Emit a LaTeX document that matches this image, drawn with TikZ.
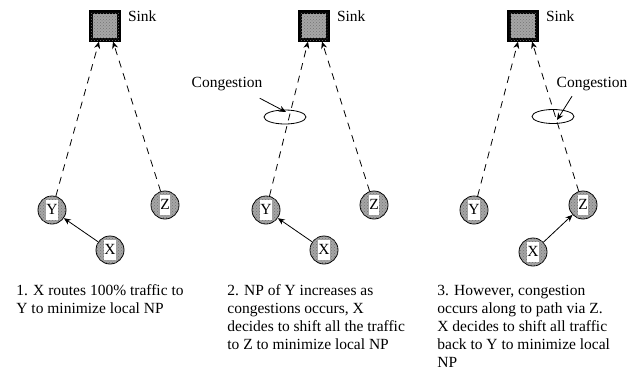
\documentclass[tikz,border=0pt]{standalone}
\usepackage{fontspec}
\setmainfont{Liberation Serif}
\usepackage{tikz}
\usetikzlibrary{arrows.meta}
\usetikzlibrary{shapes.geometric}
\usetikzlibrary{patterns}
\usetikzlibrary{calc}

\newcommand{\capfont}{\fontsize{15.5}{18}\selectfont}
\newcommand{\tagbox}[1]{{\setlength{\fboxsep}{0.5pt}\colorbox{white}{\rule[-5pt]{0pt}{19pt}#1}}}

\begin{document}
\begin{tikzpicture}[x=1pt,y=-1pt,>={Stealth[length=7pt,width=6pt]},line width=0.8pt,
        sensor/.style={circle,draw,fill=gray!70,minimum size=28pt,inner sep=0pt,font=\capfont,
            postaction={pattern=crosshatch dots,pattern color=black!55}},
        sink node/.style={rectangle,draw,line width=3.2pt,fill=gray!70,minimum size=28pt,inner sep=0pt,
            postaction={pattern=crosshatch dots,pattern color=black!55}},
        hot spot/.style={ellipse,draw,minimum width=42pt,minimum height=14pt,inner sep=0pt},
        route/.style={->,dash pattern=on 7pt off 6pt},
        link/.style={->},
        txt/.style={font=\capfont,inner sep=0pt}]

        \useasboundingbox (0,0) rectangle (635,375);

        % 1: all traffic to Y
        \node[sink node] (sink1) at (105,26) {};
        \node[txt,anchor=west] (snk1) at ([xshift=7pt,yshift=-6pt]sink1.north east) {Sink};
        \node[sensor] (y1) at (52,210) {\tagbox{Y}};
        \node[sensor] (z1) at (165,205) {\tagbox{Z}};
        \node[sensor] (x1) at (110,250) {\tagbox{X}};
        \draw[route] (y1) -- ([xshift=-6pt]sink1.south);
        \draw[route] (z1) -- ([xshift=8pt]sink1.south);
        \draw[link] (x1) -- (y1);
        \node[txt,anchor=north west,align=left] (cap1) at (16,284.5)
            {1. X routes 100\% traffic to\\Y to minimize local NP};

        % 2: congestion on the Y path
        \node[sink node] (sink2) at (314,26) {};
        \node[txt,anchor=west] (snk2) at ([xshift=7pt,yshift=-6pt]sink2.north east) {Sink};
        \node[sensor] (y2) at (266,210) {\tagbox{Y}};
        \node[sensor] (z2) at (374,205) {\tagbox{Z}};
        \node[sensor] (x2) at (324,250) {\tagbox{X}};
        \draw[route] (y2) -- ([xshift=-6pt]sink2.south);
        \draw[route] (z2) -- ([xshift=8pt]sink2.south);
        \draw[link] (x2) -- (y2);
        \node[hot spot] (cg2) at (285,117) {};
        \node[txt] (cong2) at (227,84) {Congestion};
        \draw[link] ($(cong2.south east)+(-3,7)$) -- ($(cg2.center)+(1,-5)$);
        \node[txt,anchor=north west,align=left] (cap2) at (227,284.5)
            {2. NP of Y increases as\\congestions occurs, X\\decides to shift all the traffic\\to Z to minimize local NP};

        % 3: congestion on the Z path
        \node[sink node] (sink3) at (523,26) {};
        \node[txt,anchor=west] (snk3) at ([xshift=7pt,yshift=-6pt]sink3.north east) {Sink};
        \node[sensor] (y3) at (474,210) {\tagbox{Y}};
        \node[sensor] (z3) at (583,205) {\tagbox{Z}};
        \node[sensor] (x3) at (533,252) {\tagbox{X}};
        \draw[route] (y3) -- ([xshift=-5pt]sink3.south);
        \draw[route] (z3) -- ([xshift=9pt]sink3.south);
        \draw[link] (x3) -- (z3);
        \node[hot spot] (cg3) at (553,116.5) {};
        \node[txt] (cong3) at (592,84) {Congestion};
        \draw[link] ($(cong3.south)+(-20,5)$) -- ($(cg3.center)+(4,3.5)$);
        \node[txt,anchor=north west,align=left] (cap3) at (437,284.5)
            {3. However, congestion\\occurs along to path via Z.\\X decides to shift all traffic\\back to Y to minimize local\\NP};
\end{tikzpicture}
\end{document}
